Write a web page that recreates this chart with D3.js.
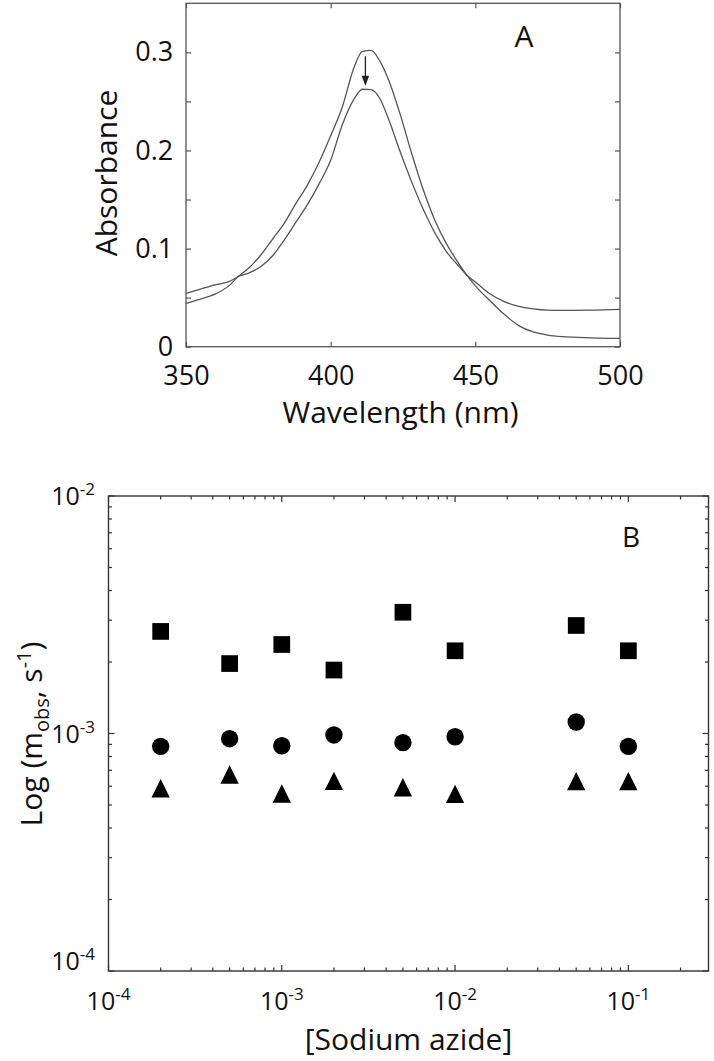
<!DOCTYPE html>
<html><head><meta charset="utf-8">
<script src="https://cdn.jsdelivr.net/npm/d3@7"></script>
<style>
body{margin:0;background:#fff}
svg{display:block}
text{font-family:"Open Sans",sans-serif;fill:#111}
</style>
</head><body>
<svg id="c" width="714" height="1061"></svg>
<script>
// ---------- Panel A data ----------
const wavelengths = [350,355,360,365,368,372,376,380,384,388,392,396,400,404,408,411,414,417,420,424,428,432,436,440,444,447,450,455,460,465,470,475,480,490,500];
const absBefore   = [0.0442,0.0485,0.0535,0.0625,0.0714,0.081,0.094,0.110,0.126,0.146,0.165,0.188,0.215,0.244,0.284,0.301,0.302,0.291,0.272,0.237,0.197,0.160,0.129,0.105,0.086,0.0731,0.062,0.047,0.033,0.0215,0.015,0.0118,0.0102,0.009,0.0085];
const absAfter    = [0.0544,0.0587,0.063,0.0665,0.0714,0.0755,0.082,0.093,0.109,0.127,0.145,0.166,0.190,0.226,0.252,0.2624,0.262,0.253,0.232,0.199,0.168,0.140,0.116,0.097,0.083,0.0731,0.066,0.054,0.046,0.041,0.0385,0.0372,0.037,0.0372,0.038];
const xTicksA = [350,400,450,500];
const yTicksA = [0,0.05,0.1,0.15,0.2,0.25,0.3];
const arrowA = [412, 0.296, 0.266]; // wavelength, from, to

// ---------- Panel B data ----------
const azide     = [2e-4,5e-4,1e-3,2e-3,5e-3,1e-2,5e-2,1e-1];
const kSquare   = [2.69e-3,1.97e-3,2.37e-3,1.85e-3,3.24e-3,2.23e-3,2.85e-3,2.23e-3];
const kCircle   = [8.83e-4,9.51e-4,8.88e-4,9.86e-4,9.15e-4,9.69e-4,1.118e-3,8.83e-4];
const kTriangle = [5.88e-4,6.72e-4,5.59e-4,6.32e-4,5.94e-4,5.57e-4,6.30e-4,6.30e-4];
const xTicksB = [1e-4,1e-3,1e-2,1e-1];
const yTicksB = [1e-4,1e-3,1e-2];

const svg = d3.select("#c");

// ================= Panel A =================
const xA = d3.scaleLinear().domain([350,500]).range([186,620]);
const yA = d3.scaleLinear().domain([0,0.35]).range([346.7,3.3]);
const gA = svg.append("g");
const frameCol = "#555";

gA.append("rect")
  .attr("x", xA(350)).attr("y", yA(0.35))
  .attr("width", xA(500)-xA(350)).attr("height", yA(0)-yA(0.35))
  .attr("fill","none").attr("stroke",frameCol).attr("stroke-width",1.3);

function styleAxis(g, col){
  g.select(".domain").remove();
  g.selectAll(".tick line").attr("stroke",col).attr("stroke-width",1.2);
}
const fmtA = d => (Math.abs(d*10 - Math.round(d*10))>1e-6) ? "" : (d===0 ? "0" : d.toFixed(1));

gA.append("g").attr("transform",`translate(0,${yA(0)})`)
  .call(d3.axisBottom(xA).tickValues(xTicksA).tickSizeInner(-5).tickSizeOuter(0).tickPadding(19))
  .call(g=>styleAxis(g,frameCol))
  .call(g=>g.selectAll("text").attr("font-size",27).attr("fill","#111").attr("font-family","Open Sans"));
gA.append("g").attr("transform",`translate(0,${yA(0.35)})`)
  .call(d3.axisTop(xA).tickValues(xTicksA).tickSizeInner(-5).tickSizeOuter(0).tickFormat(""))
  .call(g=>styleAxis(g,frameCol));
gA.append("g").attr("transform",`translate(${xA(350)},0)`)
  .call(d3.axisLeft(yA).tickValues(yTicksA).tickSizeInner(-5).tickSizeOuter(0).tickPadding(12.7).tickFormat(fmtA))
  .call(g=>styleAxis(g,frameCol))
  .call(g=>g.selectAll("text").attr("font-size",27).attr("fill","#111").attr("font-family","Open Sans"));
gA.append("g").attr("transform",`translate(${xA(500)},0)`)
  .call(d3.axisRight(yA).tickValues(yTicksA).tickSizeInner(-5).tickSizeOuter(0).tickFormat(""))
  .call(g=>styleAxis(g,frameCol));

const lineA = d3.line().x((d,i)=>xA(wavelengths[i])).y(d=>yA(d)).curve(d3.curveMonotoneX);
[absBefore, absAfter].forEach(s=>{
  gA.append("path").attr("d", lineA(s)).attr("fill","none")
    .attr("stroke","#555").attr("stroke-width",1.3);
});

// arrow
const ax = xA(arrowA[0]), ay1 = yA(arrowA[1]), ay2 = yA(arrowA[2]);
gA.append("line").attr("x1",ax).attr("x2",ax).attr("y1",ay1).attr("y2",ay2-6)
  .attr("stroke","#222").attr("stroke-width",1.3);
gA.append("path").attr("d",`M${ax-3.8},${ay2-10} L${ax+3.8},${ay2-10} L${ax},${ay2} Z`).attr("fill","#222");

gA.append("text").attr("x",524).attr("y",46.7).attr("text-anchor","middle")
  .attr("font-size",30).text("A");
gA.append("text").attr("transform",`translate(117,173) rotate(-90)`).attr("text-anchor","middle")
  .attr("font-size",30).text("Absorbance");
gA.append("text").attr("x",400.5).attr("y",423).attr("text-anchor","middle")
  .attr("font-size",30).text("Wavelength (nm)");

// ================= Panel B =================
const xB = d3.scaleLog().domain([1e-4,0.29]).range([108.5,708.5]);
const yB = d3.scaleLog().domain([1e-4,1e-2]).range([971,496]);
const gB = svg.append("g");
const frameB = "#333";
const [x0,x1] = xB.range(), [yb0,yb1] = yB.range();

gB.append("rect").attr("x",x0).attr("y",yb1).attr("width",x1-x0).attr("height",yb0-yb1)
  .attr("fill","none").attr("stroke",frameB).attr("stroke-width",1.4);

const isDecade = v => Math.abs(Math.log10(v) - Math.round(Math.log10(v))) < 1e-6;
const xMinor = xB.ticks().filter(v=>v>=1e-4 && v<=0.29);
const yMinor = yB.ticks();

gB.selectAll("line.xb").data(xMinor).join("line")
  .attr("x1",d=>xB(d)).attr("x2",d=>xB(d)).attr("y1",yb0).attr("y2",d=>yb0-(isDecade(d)?6:3.5))
  .attr("stroke",frameB).attr("stroke-width",1.2);
gB.selectAll("line.xt").data(xMinor).join("line")
  .attr("x1",d=>xB(d)).attr("x2",d=>xB(d)).attr("y1",yb1).attr("y2",d=>yb1+(isDecade(d)?6:3.5))
  .attr("stroke",frameB).attr("stroke-width",1.2);
gB.selectAll("line.yl").data(yMinor).join("line")
  .attr("y1",d=>yB(d)).attr("y2",d=>yB(d)).attr("x1",x0).attr("x2",d=>x0+(isDecade(d)?6:3.5))
  .attr("stroke",frameB).attr("stroke-width",1.2);
gB.selectAll("line.yr").data(yMinor).join("line")
  .attr("y1",d=>yB(d)).attr("y2",d=>yB(d)).attr("x1",x1).attr("x2",d=>x1-(isDecade(d)?6:3.5))
  .attr("stroke",frameB).attr("stroke-width",1.2);

function powLabel(sel){
  sel.append("tspan").attr("font-size",25).text("10");
  sel.append("tspan").attr("font-size",17).attr("dy",-10).text(d=>Math.round(Math.log10(d)));
}
gB.selectAll("text.xl").data(xTicksB).join("text")
  .attr("x",d=>xB(d)).attr("y",1010).attr("text-anchor","middle").call(powLabel);
gB.selectAll("text.yl").data(yTicksB).join("text")
  .attr("x",x0-13.5).attr("y",(d,i)=>yB(d)+(i===0?-1:9)).attr("text-anchor","end").call(powLabel);

// markers
const sq = 16.7, cr = 8.7, tri = 9.15;
gB.selectAll("rect.sq").data(azide).join("rect")
  .attr("x",d=>xB(d)-sq/2).attr("y",(d,i)=>yB(kSquare[i])-sq/2)
  .attr("width",sq).attr("height",sq).attr("fill","#000");
gB.selectAll("circle.ci").data(azide).join("circle")
  .attr("cx",d=>xB(d)).attr("cy",(d,i)=>yB(kCircle[i])).attr("r",cr).attr("fill","#000");
gB.selectAll("path.tr").data(azide).join("path")
  .attr("d",(d,i)=>{const cx=xB(d), cy=yB(kTriangle[i]);
    return `M${cx-tri},${cy+tri} L${cx+tri},${cy+tri} L${cx},${cy-tri} Z`;})
  .attr("fill","#000");

gB.append("text").attr("x",631).attr("y",546.7).attr("text-anchor","middle")
  .attr("font-size",28).text("B");

const yl = gB.append("text").attr("transform",`translate(42,734) rotate(-90)`)
  .attr("text-anchor","middle").attr("font-size",30);
yl.append("tspan").text("Log (m");
yl.append("tspan").attr("font-size",20).attr("dy",7).text("obs");
yl.append("tspan").attr("dy",-7).text(", s");
yl.append("tspan").attr("font-size",20).attr("dy",-11).text("-1");
yl.append("tspan").attr("dy",11).text(")");

gB.append("text").attr("x",(x0+x1)/2).attr("y",1050).attr("text-anchor","middle")
  .attr("font-size",30).text("[Sodium azide]");
</script>
</body></html>
